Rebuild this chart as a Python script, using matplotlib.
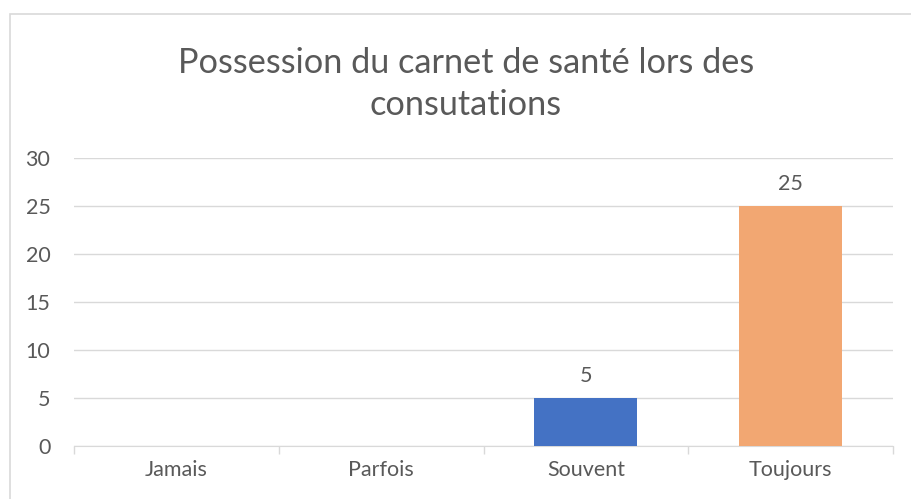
import matplotlib
matplotlib.use("Agg")
import matplotlib.pyplot as plt
from matplotlib.patches import Rectangle

categories = ["Jamais", "Parfois", "Souvent", "Toujours"]
values = [0, 0, 5, 25]
colors = ["#4472C4", "#4472C4", "#4472C4", "#F2A772"]
yticks = [0, 5, 10, 15, 20, 25, 30]
title = "Possession du carnet de santé lors des\nconsutations"

plt.rcParams['font.family'] = ['Lato', 'DejaVu Sans']
txt = "#595959"
grid = "#D9D9D9"

fig = plt.figure(figsize=(9.11, 4.99), dpi=100)
fig.patches.append(Rectangle((10/911, -0.05), 1.0, 1 - 14/499 + 0.05, transform=fig.transFigure,
                             fill=False, edgecolor=grid, linewidth=1.2))
ax = fig.add_axes([74/911, 1-446/499, (893-74)/911, (446-158)/499])
x = list(range(len(categories)))
bars = ax.bar(x, values, width=0.503, color=colors, zorder=3)
for xi, v in zip(x, values):
    if v > 0:
        ax.text(xi, v + 1.2, str(v), ha="center", va="bottom", fontsize=15.5, color=txt)
ax.set_ylim(0, 30)
ax.set_xlim(-0.5, len(categories) - 0.5)
ax.set_yticks(yticks)
ax.set_yticklabels([str(t) for t in yticks], fontsize=15.5, color=txt)
ax.yaxis.grid(True, color=grid, linewidth=1, zorder=0)
ax.tick_params(axis="y", length=0, pad=17)
ax.set_xticks(x)
ax.set_xticklabels(categories, fontsize=15.5, color=txt)
ax.tick_params(axis="x", length=0, pad=10)
ax.set_xticks([i + 0.5 for i in range(-1, len(categories))], minor=True)
ax.tick_params(axis="x", which="minor", length=6, color=grid, width=1)
for s in ["top", "right", "left"]:
    ax.spines[s].set_visible(False)
ax.spines["bottom"].set_color(grid)
fig.text(466/911, 1 - 84/499, title, ha="center", va="center",
         fontsize=24.7, color=txt, linespacing=1.4)
fig.savefig("out.png", dpi=100)
